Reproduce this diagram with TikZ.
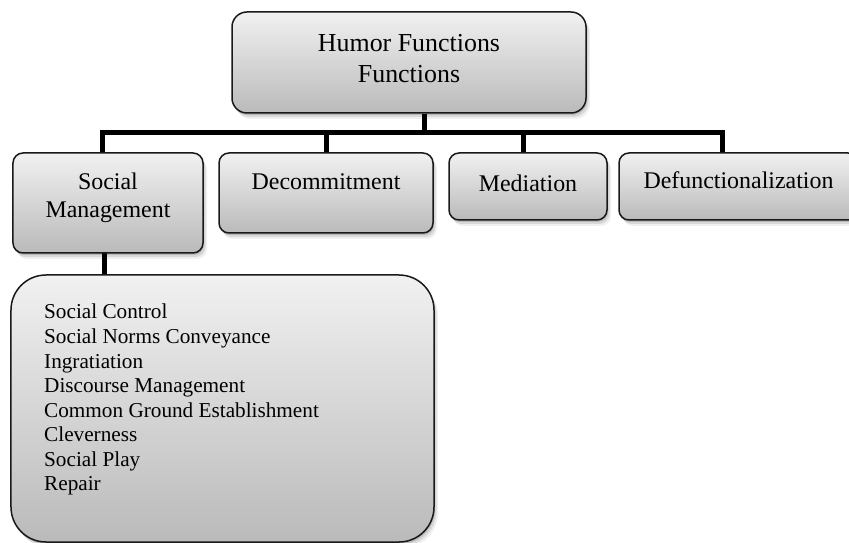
\documentclass[tikz,border=0pt]{standalone}
\usepackage{fontspec}
\setmainfont{Liberation Serif}
\usetikzlibrary{shadows}
\definecolor{gtop}{RGB}{241,241,241}
\definecolor{gbot}{RGB}{186,186,186}
\begin{document}
\begin{tikzpicture}[x=1bp,y=-1bp,
  softshadow/.style={
    drop shadow={shadow xshift=1bp,shadow yshift=-2bp,opacity=0.14,fill=black},
    drop shadow={shadow xshift=2.5bp,shadow yshift=-4bp,opacity=0.10,fill=black},
    drop shadow={shadow xshift=4bp,shadow yshift=-6bp,opacity=0.06,fill=black}},
  box/.style={draw=black!90, line width=1.5bp, top color=gtop, bottom color=gbot,
    rounded corners=10bp, inner sep=0pt, softshadow},
  conn/.style={line width=5bp, black, line join=miter},
  lbl/.style={anchor=base, inner sep=0pt, font=\fontsize{24}{24}\selectfont},
  item/.style={anchor=base west, inner sep=0pt, font=\fontsize{21.3}{21.3}\selectfont}]
\useasboundingbox (0,0) rectangle (849,543);
\clip (0,0) rectangle (849,543);

% boxes (positions)
\node[box, rounded corners=15bp, minimum width=354bp, minimum height=101bp] (root) at (409,62.5) {};
\coordinate (bL) at (102,133);
\coordinate (bR) at (722,133);
\coordinate (j) at (424,133);
\coordinate (d1) at (326,133);
\coordinate (d2) at (523,133);
\coordinate (s) at (104,0);

\path (108,203) node[minimum width=190bp, minimum height=100bp, inner sep=0pt] (smp) {};
\path (738.5,186.5) node[minimum width=239bp, minimum height=67bp, inner sep=0pt] (dfp) {};
\path (326,193) node[minimum width=214bp, minimum height=80bp, inner sep=0pt] (dcp) {};
\path (528,186.5) node[minimum width=158bp, minimum height=67bp, inner sep=0pt] (mdp) {};
\path (222.5,408.5) node[minimum width=423bp, minimum height=267bp, inner sep=0pt] (lsp) {};

% connectors
\draw[conn] (j |- root.south) -- (j);
\draw[conn] (bL |- smp.north) -- (bL) -- (bR) -- (bR |- dfp.north);
\draw[conn] (d1) -- (d1 |- dcp.north);
\draw[conn] (d2) -- (d2 |- mdp.north);
\draw[conn] (s |- smp.south) -- (s |- lsp.north);

% drawn boxes
\node[box, minimum width=190bp, minimum height=100bp] (sm) at (smp) {};
\node[box, minimum width=214bp, minimum height=80bp] (dc) at (dcp) {};
\node[box, minimum width=158bp, minimum height=67bp] (md) at (mdp) {};
\node[box, minimum width=239bp, minimum height=67bp] (df) at (dfp) {};
\node[box, rounded corners=35bp, minimum width=423bp, minimum height=267bp] (ls) at (lsp) {};

% texts
\node[lbl, font=\fontsize{26}{26}\selectfont] (rt1) at (409,52) {Humor Functions};
\node[lbl, font=\fontsize{26}{26}\selectfont] (rt2) at (409,83) {Functions};
\node[lbl] (smt1) at (108,190) {Social};
\node[lbl] (smt2) at (108,218) {Management};
\node[lbl] (dct) at (326,190) {Decommitment};
\node[lbl] (mdt) at (528,192) {Mediation};
\node[lbl] (dft) at (738.5,189) {Defunctionalization};

\foreach \t [count=\k from 0] in {Social Control, Social Norms Conveyance, Ingratiation,
  Discourse Management, Common Ground Establishment, Cleverness, Social Play, Repair}
  \node[item] (li\k) at (44,319+24.5*\k) {\t};
\end{tikzpicture}
\end{document}
